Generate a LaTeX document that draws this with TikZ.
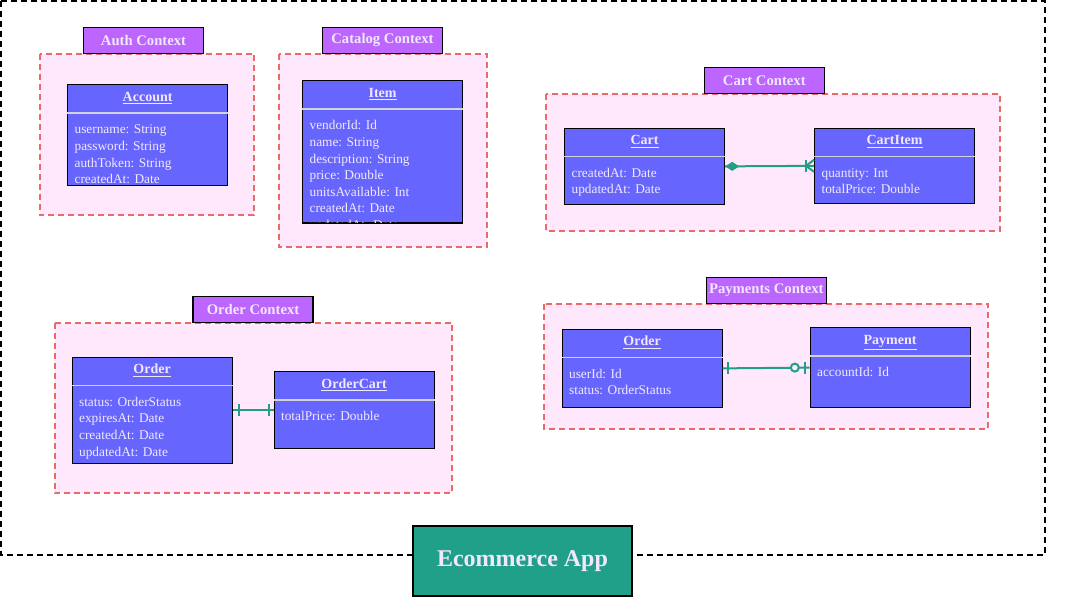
\documentclass[tikz,border=0pt]{standalone}
\usepackage{fontspec}
\setmainfont{Liberation Serif}
\usetikzlibrary{calc}
\definecolor{boxblue}{RGB}{102,102,255}
\definecolor{ctxlabel}{RGB}{188,102,255}
\definecolor{ctxbg}{RGB}{255,232,252}
\definecolor{ctxline}{RGB}{234,107,102}
\definecolor{tealc}{RGB}{33,158,136}
\definecolor{appfill}{RGB}{33,160,137}
\definecolor{txt}{RGB}{242,232,252}
\definecolor{sepc}{RGB}{210,210,215}
\tikzset{
 cls/.style={draw=black, line width=0.9pt, fill=boxblue, minimum width=120pt, anchor=north west, inner sep=0pt},
 clstitle/.style={text=txt, font=\fontsize{10.5}{12}\selectfont\bfseries, anchor=base, inner sep=0pt},
 attr/.style={text=txt, font=\fontsize{10}{12}\selectfont, anchor=base west, inner sep=0pt},
 sepline/.style={draw=sepc, line width=1pt},
 ctx/.style={draw=ctxline, fill=ctxbg, line width=1.5pt, dash pattern=on 4.5pt off 3pt},
 ctxlab/.style={draw=black, line width=0.8pt, fill=ctxlabel, text=txt, font=\fontsize{11}{13}\selectfont\bfseries, minimum width=90pt, minimum height=19.5pt, inner sep=0pt},
 conn/.style={draw=tealc, line width=1.5pt},
 frame/.style={draw=black, line width=1.4pt, dash pattern=on 4.5pt off 3pt},
 appbox/.style={draw=black, line width=0.9pt, fill=appfill, text=txt, font=\fontsize{18}{21}\selectfont\bfseries, minimum width=164.25pt, minimum height=52.5pt, inner sep=0pt},
}
% name, left, top, height, title, attributes
\newcommand\umlclass[6]{%
 \node[cls, minimum height=#4] (#1) at (#2,#3) {};
 \node[clstitle] (#1-t) at ([yshift=-13pt]#1.north) {\underline{#5}};
 \draw[sepline] ([yshift=-21.75pt]#1.north west) -- ([yshift=-21.75pt]#1.north east);
 \foreach \a [count=\i] in {#6} {
  \node[attr] (#1-\i) at ([xshift=5.5pt,yshift={-(37.4+(\i-1)*12.45)*1pt}]#1.north west) {\a};
 }
}
\begin{document}
\begin{tikzpicture}[x=0.75pt,y=-0.75pt]
\useasboundingbox (0,0) rectangle (1071,597);
% outer frame
\draw[frame] (1,1) rectangle (1045,555);
% context backgrounds
\draw[ctx] (39.5,53.5) rectangle (254,215);
\draw[ctx] (278.5,53.5) rectangle (486.5,246.5);
\draw[ctx] (546,93.5) rectangle (1000,230.5);
\draw[ctx] (54.5,322.5) rectangle (452,493);
\draw[ctx] (544,303.5) rectangle (988,428.5);
% context labels
\node[ctxlab] (authlab) at (143.5,40.5) {Auth Context};
\node[ctxlab] (catlab) at (382.5,40.3) {Catalog Context};
\node[ctxlab] (cartlab) at (764.3,80.3) {Cart Context};
\node[ctxlab] (orderlab) at (253,309.5) {Order Context};
\node[ctxlab] (paylab) at (766.3,290.3) {Payments Context};
% classes
\umlclass{account}{67}{84}{75.75pt}{Account}{username: String,password: String,authToken: String,createdAt: Date}
\begin{scope}
\clip (299,77) rectangle (465,222.6);
\umlclass{item}{302}{80}{106.5pt}{Item}{vendorId: Id,name: String,description: String,price: Double,unitsAvailable: Int,createdAt: Date,updatedAt: Date}
\end{scope}
\draw[black, line width=0.9pt] (item.south west) -- (item.south east);
\umlclass{cart}{564}{127.5}{57.4pt}{Cart}{createdAt: Date,updatedAt: Date}
\umlclass{cartitem}{814}{127.5}{56.6pt}{CartItem}{quantity: Int,totalPrice: Double}
\umlclass{order}{71.5}{356.5}{79.5pt}{Order}{status: OrderStatus,expiresAt: Date,createdAt: Date,updatedAt: Date}
\umlclass{ordercart}{273.5}{371}{57.75pt}{OrderCart}{totalPrice: Double}
\umlclass{porder}{561.5}{328.5}{58.9pt}{Order}{userId: Id,status: OrderStatus}
\umlclass{payment}{809.5}{327}{60pt}{Payment}{accountId: Id}
% connectors
\draw[conn] (cart.east) -- (cartitem.west);
\fill[tealc] (cart.east) -- ++(7,-4.5) -- ++(7,4.5) -- ++(-7,4.5) -- cycle;
\draw[conn] ([xshift=-6pt]cartitem.west) ++(0,-6) -- ++(0,12);
\draw[conn] ([xshift=-6pt]cartitem.west) -- ++(8,-6);
\draw[conn] ([xshift=-6pt]cartitem.west) -- ++(8,6);

\draw[conn] (order.east) -- (ordercart.west);
\draw[conn] ([xshift=4.5pt]order.east) ++(0,-6) -- ++(0,12);
\draw[conn] ([xshift=-3.75pt]ordercart.west) ++(0,-6) -- ++(0,12);

\draw[conn] (porder.east) -- (payment.west);
\draw[conn] ([xshift=3.75pt]porder.east) ++(0,-6) -- ++(0,12);
\draw[conn, fill=ctxbg] ([xshift=-11pt]payment.west) circle[radius=3pt];
\draw[conn] ([xshift=-3.75pt]payment.west) ++(0,-6) -- ++(0,12);
% app label
\node[appbox] (app) at (522.5,561) {Ecommerce App};
\end{tikzpicture}
\end{document}
